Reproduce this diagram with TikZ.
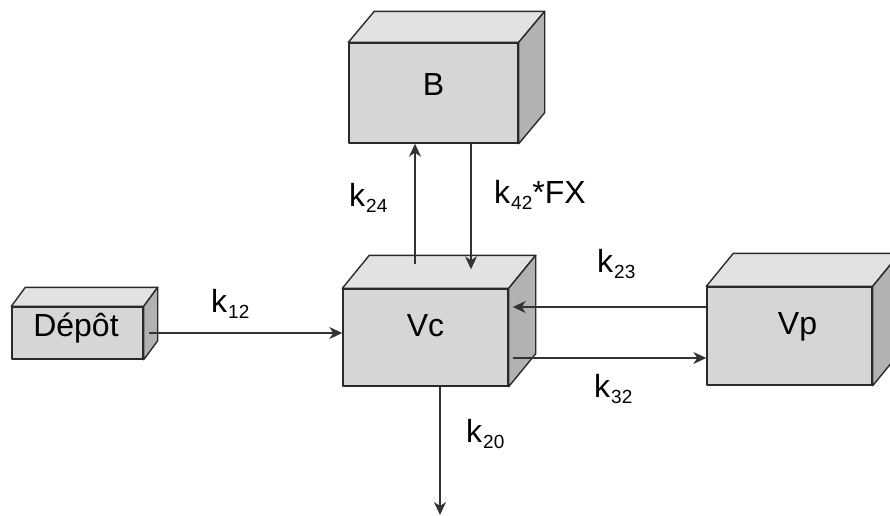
\documentclass[tikz,border=0pt]{standalone}
\usepackage{fontspec}
\setmainfont{Liberation Sans}
\usetikzlibrary{calc,arrows.meta}
\definecolor{frontc}{HTML}{D6D6D6}
\definecolor{topc}{HTML}{E2E2E2}
\definecolor{sidec}{HTML}{B2B2B2}
\definecolor{edgec}{HTML}{2A2A2A}
\definecolor{arrc}{HTML}{333333}
\newcommand{\kk}[1]{k\hspace{1pt}{\fontsize{19}{21}\selectfont\raisebox{-6pt}{#1}}}
\newcommand{\cubefaces}[3]{%
  \draw[facebox,fill=topc] (#1.north west) -- ($(#1.north west)+(#2,#3)$) -- ($(#1.north east)+(#2,#3)$) -- (#1.north east) -- cycle;
  \draw[facebox,fill=sidec] (#1.north east) -- ($(#1.north east)+(#2,#3)$) -- ($(#1.south east)+(#2,#3)$) -- (#1.south east) -- cycle;
}
\begin{document}
\begin{tikzpicture}[x=1pt,y=-1pt,
  facebox/.style={draw=edgec,line width=1.4pt,line join=round},
  front/.style={facebox,fill=frontc,rectangle,inner sep=0pt},
  boxtext/.style={anchor=base,inner sep=0pt,font=\fontsize{32}{36}\selectfont},
  arr/.style={draw=arrc,line width=1.5pt,-{Stealth[length=13pt,width=12pt,inset=4pt]}},
  lbl/.style={anchor=base west,inner sep=0pt,font=\fontsize{32}{36}\selectfont}]
\useasboundingbox (0,0) rectangle (890,515);
% front faces
\node[front,minimum width=169pt,minimum height=100pt] (B) at (433.5,93) {};
\node[front,minimum width=165pt,minimum height=97pt] (Vc) at (425.5,337.5) {};
\node[front,minimum width=131pt,minimum height=52pt] (dep) at (77.5,333) {};
\node[front,minimum width=165pt,minimum height=98pt] (Vp) at (789.5,336) {};
\cubefaces{B}{26}{-31}
\cubefaces{Vc}{27}{-33}
\cubefaces{dep}{14}{-19}
\cubefaces{Vp}{27}{-33}
% box texts
\node[boxtext] (tB) at ($(B.center)+(0,2)$) {B};
\node[boxtext] (tVc) at ($(Vc.center)+(0,-1.5)$) {Vc};
\node[boxtext] (tdep) at ($(dep.center)+(-1.5,3)$) {Dépôt};
\node[boxtext] (tVp) at ($(Vp.center)+(8,-2)$) {Vp};
% connectors
\coordinate (out) at (440,515);
\draw[arr] ($(dep.east)+(5,0)$) -- (Vc.west |- dep.east);
\draw[arr] ($(Vc.north)+(-10.5,-24)$) -- ($(B.south)+(-18.5,0)$);
\draw[arr] ($(B.south)+(37.5,0)$) -- ($(Vc.north)+(45.5,-19)$);
\draw[arr] ($(Vp.west)+(0,-29)$) -- ($(Vc.east)+(4,-30.5)$);
\draw[arr] ($(Vc.east)+(4,20.5)$) -- ($(Vp.west)+(0,22)$);
\draw[arr] ($(Vc.south)+(14.5,0)$) -- (out);
% labels
\node[lbl] (l12) at (211,312) {\kk{12}};
\node[lbl] (l24) at (349,206) {\kk{24}};
\node[lbl] (l42) at (494,203) {\kk{42}*FX};
\node[lbl] (l23) at (597,272) {\kk{23}};
\node[lbl] (l32) at (594,397) {\kk{32}};
\node[lbl] (l20) at (466,442) {\kk{20}};
\end{tikzpicture}
\end{document}
